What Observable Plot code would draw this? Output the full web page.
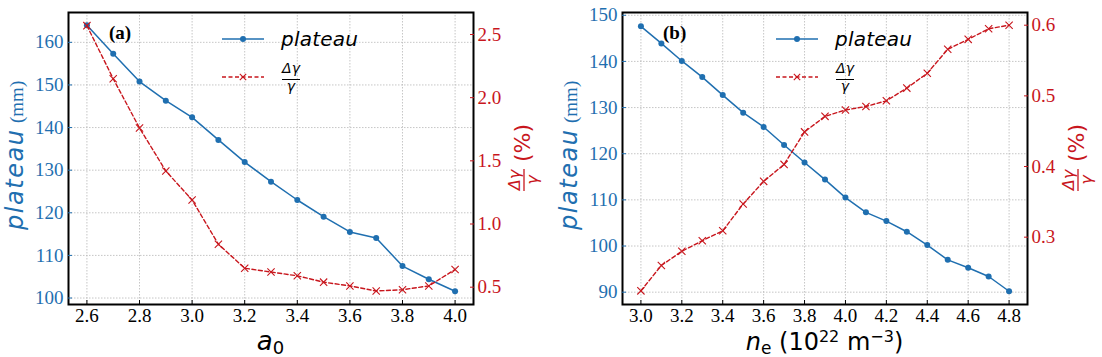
<!DOCTYPE html>
<html><head><meta charset="utf-8">
<script src="https://cdn.jsdelivr.net/npm/d3@7"></script>
<script src="https://cdn.jsdelivr.net/npm/@observablehq/plot@0.6"></script>
<style>
html,body{margin:0;padding:0;background:#fff;}
#chart{position:relative;width:1102px;height:357px;background:#fff;}
.panel{position:absolute;top:0;width:551px;height:357px;}
.panel svg{position:absolute;left:0;top:0;}
</style></head><body><div id="chart"></div>
<script>
// ---- data: panel (a) ----
const a0 = [2.6, 2.7, 2.8, 2.9, 3.0, 3.1, 3.2, 3.3, 3.4, 3.5, 3.6, 3.7, 3.8, 3.9, 4.0];
const plateauA = [164.0, 157.3, 150.8, 146.3, 142.4, 137.1, 131.9, 127.3, 123.0, 119.1, 115.5, 114.1, 107.5, 104.4, 101.6];
const dgammaA = [2.57, 2.15, 1.76, 1.42, 1.19, 0.84, 0.65, 0.62, 0.59, 0.54, 0.51, 0.47, 0.48, 0.51, 0.64];
const xTicksA = [2.6, 2.8, 3.0, 3.2, 3.4, 3.6, 3.8, 4.0];
const yTicksA = [100, 110, 120, 130, 140, 150, 160];
const rTicksA = [0.5, 1.0, 1.5, 2.0, 2.5];

// ---- data: panel (b) ----
const ne = [3.0, 3.1, 3.2, 3.3, 3.4, 3.5, 3.6, 3.7, 3.8, 3.9, 4.0, 4.1, 4.2, 4.3, 4.4, 4.5, 4.6, 4.7, 4.8];
const plateauB = [147.6, 143.9, 140.1, 136.6, 132.7, 128.9, 125.8, 121.9, 118.1, 114.4, 110.5, 107.3, 105.4, 103.1, 100.2, 97.0, 95.3, 93.4, 90.2];
const dgammaB = [0.224, 0.260, 0.280, 0.295, 0.309, 0.347, 0.379, 0.403, 0.449, 0.471, 0.480, 0.485, 0.493, 0.511, 0.532, 0.566, 0.580, 0.595, 0.600];
const xTicksB = [3.0, 3.2, 3.4, 3.6, 3.8, 4.0, 4.2, 4.4, 4.6, 4.8];
const yTicksB = [90, 100, 110, 120, 130, 140, 150];
const rTicksB = [0.3, 0.4, 0.5, 0.6];

const BLUE = "#1f6fb0";
const RED = "#c8161d";
const W = 551, H = 357, MT = 12, MB = 53;
const SERIF = "'Liberation Serif', 'Times New Roman', serif";
const SANS = "'DejaVu Sans', sans-serif";

function forceTickFont(svgEl) {
  d3.select(svgEl).selectAll('g[aria-label$="tick label"] text')
    .style("font-family", SERIF).style("font-size", "19px");
}

function panel(cfg) {
  const div = document.createElement("div");
  div.className = "panel";
  div.style.left = cfg.left + "px";
  document.getElementById("chart").appendChild(div);

  const blueRows = cfg.x.map((x, i) => ({x, y: cfg.plateau[i]}));
  const redRows = cfg.x.map((x, i) => ({x, y: cfg.dgamma[i]}));
  const style = "font-family: " + SERIF + "; font-size: 19px; background: transparent; overflow: visible;";
  const grid = {stroke: "#b8b8b8", strokeOpacity: 1, strokeWidth: 0.8, strokeDasharray: "1.5,1.5"};
  const tickText = {fontFamily: SERIF, fontSize: 19};

  const p1 = Plot.plot({
    width: W, height: H, marginLeft: cfg.ml, marginRight: cfg.mr, marginTop: MT, marginBottom: MB,
    style,
    x: {type: "linear", domain: cfg.xDomain, label: null},
    y: {type: "linear", domain: cfg.yDomain, label: null},
    marks: [
      Plot.gridX(cfg.xTicks, grid),
      Plot.gridY(cfg.yTicks, grid),
      Plot.line(blueRows, {x: "x", y: "y", stroke: BLUE, strokeWidth: 1.5}),
      Plot.dot(blueRows, {x: "x", y: "y", r: 3, fill: BLUE, stroke: "none"}),
      Plot.frame({stroke: "black", strokeWidth: 2}),
      Plot.axisX(cfg.xTicks, {anchor: "bottom", tickSize: -4, tickPadding: 8, tickFormat: d3.format(".1f"), color: "black", label: null, ...tickText}),
      Plot.axisY(cfg.yTicks, {anchor: "left", tickSize: -4, tickPadding: 9, tickFormat: d3.format("d"), color: BLUE, label: null, ...tickText})
    ]
  });
  div.appendChild(p1);
  forceTickFont(p1);

  const p2 = Plot.plot({
    width: W, height: H, marginLeft: cfg.ml, marginRight: cfg.mr, marginTop: MT, marginBottom: MB,
    style,
    x: {type: "linear", domain: cfg.xDomain, axis: null, label: null},
    y: {type: "linear", domain: cfg.rDomain, label: null},
    marks: [
      Plot.line(redRows, {x: "x", y: "y", stroke: RED, strokeWidth: 1.4, strokeDasharray: "4,2.5"}),
      Plot.dot(redRows, {x: "x", y: "y", symbol: "times", r: 3.4, stroke: RED, strokeWidth: 1.1}),
      Plot.axisY(cfg.rTicks, {anchor: "right", tickSize: -4, tickPadding: 8, tickFormat: d3.format(".1f"), color: RED, label: null, ...tickText})
    ]
  });
  div.appendChild(p2);
  forceTickFont(p2);

  const svg = d3.select(p2);
  const fl = cfg.ml, fr = W - cfg.mr, fc = (fl + fr) / 2;
  const txt = (sel) => sel.append("text").attr("text-anchor", "start");

  // panel tag
  txt(svg).attr("x", fl + 41).attr("y", 39)
    .attr("font-family", SERIF).attr("font-weight", "bold").attr("font-size", 19)
    .attr("fill", "black").text(cfg.tag);

  // left y label
  const gl = svg.append("g").attr("transform", `translate(${fl - 45},230) rotate(-90)`);
  txt(gl).attr("x", 0).attr("y", 0).attr("font-family", SANS)
    .attr("font-style", "italic").attr("font-size", 24).attr("fill", BLUE)
    .attr("textLength", 100).attr("lengthAdjust", "spacing").text("plateau");
  txt(gl).attr("x", 107).attr("y", 0).attr("font-family", SERIF)
    .attr("font-size", 19).attr("fill", BLUE).text("(mm)");

  // right y label: Δγ/γ (%)
  const gr = svg.append("g").attr("transform", `translate(${fr + 50},157) rotate(-90)`);
  gr.append("text").attr("x", -23).attr("y", -3).attr("text-anchor", "middle")
    .attr("font-family", SANS).attr("font-style", "italic").attr("font-size", 16)
    .attr("fill", RED).text("Δγ");
  gr.append("line").attr("x1", -34).attr("x2", -12).attr("y1", 1).attr("y2", 1)
    .attr("stroke", RED).attr("stroke-width", 1.3);
  gr.append("text").attr("x", -23).attr("y", 15).attr("text-anchor", "middle")
    .attr("font-family", SANS).attr("font-style", "italic").attr("font-size", 16)
    .attr("fill", RED).text("γ");
  txt(gr).attr("x", -5).attr("y", 7)
    .attr("font-family", SANS).attr("font-size", 22)
    .attr("fill", RED).text("(%)");

  // x label
  const xl = svg.append("text").attr("x", fc).attr("y", 350).attr("text-anchor", "middle")
    .attr("font-family", SANS).attr("font-size", 24).attr("fill", "black");
  cfg.xlabel(xl);

  // legend
  const lx = fl + 154, ly1 = 39, ly2 = 77;
  svg.append("line").attr("x1", lx).attr("x2", lx + 42).attr("y1", ly1).attr("y2", ly1)
    .attr("stroke", BLUE).attr("stroke-width", 1.5);
  svg.append("circle").attr("cx", lx + 21).attr("cy", ly1).attr("r", 3).attr("fill", BLUE);
  txt(svg).attr("x", lx + 59).attr("y", ly1 + 7)
    .attr("font-family", SANS).attr("font-style", "italic").attr("font-size", 20)
    .attr("textLength", 77).attr("lengthAdjust", "spacing").attr("fill", "black").text("plateau");
  svg.append("line").attr("x1", lx).attr("x2", lx + 42).attr("y1", ly2).attr("y2", ly2)
    .attr("stroke", RED).attr("stroke-width", 1.4).attr("stroke-dasharray", "4,2.5");
  const s = 3.2;
  svg.append("path").attr("d", `M${lx + 21 - s},${ly2 - s}L${lx + 21 + s},${ly2 + s}M${lx + 21 - s},${ly2 + s}L${lx + 21 + s},${ly2 - s}`)
    .attr("stroke", RED).attr("stroke-width", 1.1).attr("fill", "none");
  const fxc = lx + 69;
  svg.append("text").attr("x", fxc).attr("y", ly2 - 4).attr("text-anchor", "middle")
    .attr("font-family", SANS).attr("font-style", "italic").attr("font-size", 14)
    .attr("fill", "black").text("Δγ");
  svg.append("line").attr("x1", fxc - 9).attr("x2", fxc + 9).attr("y1", ly2 + 2.5).attr("y2", ly2 + 2.5)
    .attr("stroke", "black").attr("stroke-width", 1);
  svg.append("text").attr("x", fxc).attr("y", ly2 + 14).attr("text-anchor", "middle")
    .attr("font-family", SANS).attr("font-style", "italic").attr("font-size", 14)
    .attr("fill", "black").text("γ");
}

panel({
  left: 0, ml: 68, mr: 78, tag: "(a)",
  x: a0, plateau: plateauA, dgamma: dgammaA,
  xDomain: [2.53, 4.07], yDomain: [98.48, 167.0], rDomain: [0.363, 2.674],
  xTicks: xTicksA, yTicks: yTicksA, rTicks: rTicksA,
  xlabel: t => {
    t.append("tspan").attr("font-style", "italic").attr("font-size", 26).text("a");
    t.append("tspan").attr("font-size", 18).attr("dy", 4).text("0");
  }
});

panel({
  left: 551, ml: 71, mr: 75, tag: "(b)",
  x: ne, plateau: plateauB, dgamma: dgammaB,
  xDomain: [2.91, 4.89], yDomain: [87.33, 150.6], rDomain: [0.2047, 0.618],
  xTicks: xTicksB, yTicks: yTicksB, rTicks: rTicksB,
  xlabel: t => {
    t.append("tspan").attr("font-style", "italic").text("n");
    t.append("tspan").attr("font-size", 17).attr("dy", 4).text("e");
    t.append("tspan").attr("dy", -4).text(" (10");
    t.append("tspan").attr("font-size", 16).attr("dy", -8).text("22");
    t.append("tspan").attr("dy", 8).text(" m");
    t.append("tspan").attr("font-size", 16).attr("dy", -8).text("−3");
    t.append("tspan").attr("dy", 8).text(")");
  }
});
</script></body></html>
